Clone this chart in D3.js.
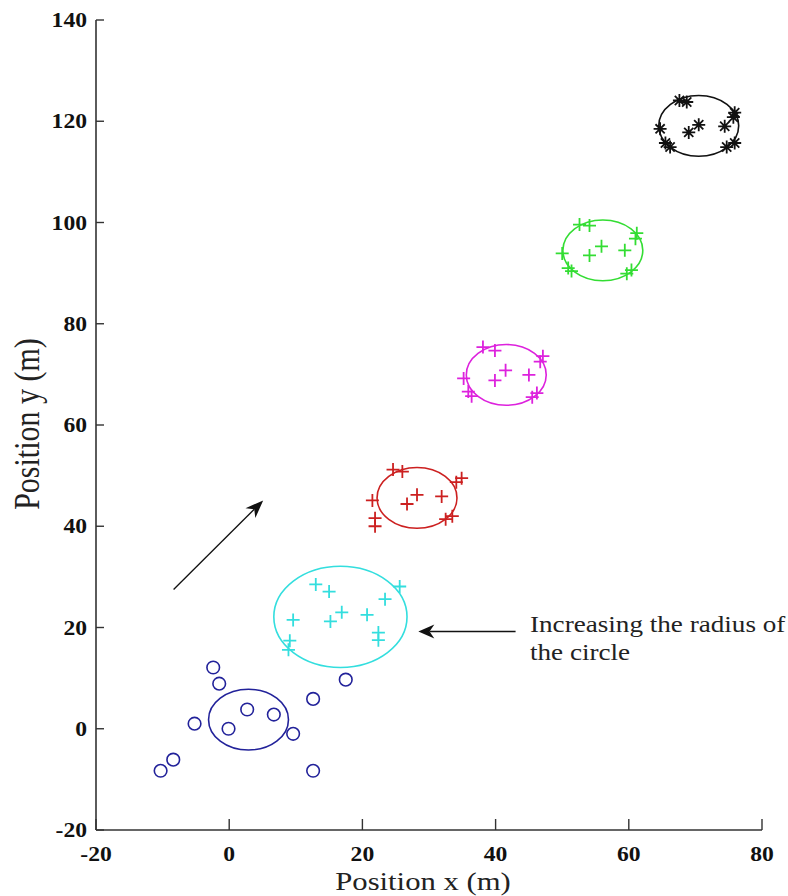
<!DOCTYPE html>
<html>
<head>
<meta charset="utf-8">
<script src="https://cdn.jsdelivr.net/npm/d3@7"></script>
<style>
  body { margin: 0; background: #fff; }
  svg { display: block; }
  text { font-family: "Liberation Serif", "Times New Roman", serif; }
</style>
</head>
<body>
<svg id="chart" width="788" height="896"></svg>
<script>
// cluster points (x, y in metres)
const bluePoints = [[-10.3, -8.3], [-8.4, -6.1], [-5.2, 1.0], [-2.4, 12.1], [-1.5, 8.9], [-0.1, 0.0],
  [2.7, 3.8], [6.7, 2.8], [9.6, -1.0], [12.6, 5.9], [12.6, -8.3], [17.5, 9.7]];
const cyanPoints = [[13.0, 28.5], [15.0, 27.1], [25.6, 28.1], [23.4, 25.6], [9.6, 21.5], [16.9, 23.0],
  [15.2, 21.2], [20.7, 22.5], [22.4, 19.0], [22.4, 17.5], [9.1, 17.4], [8.9, 15.6]];
const redPoints = [[24.6, 51.2], [26.0, 50.8], [34.9, 49.5], [34.1, 48.7], [21.5, 45.1], [28.2, 46.2],
  [26.7, 44.4], [31.9, 45.9], [21.9, 41.6], [21.9, 40.0], [33.5, 42.0], [32.5, 41.4]];
const magentaPoints = [[38.1, 75.4], [39.9, 74.7], [47.1, 73.6], [46.7, 72.5], [35.2, 69.2], [41.5, 70.8],
  [39.9, 68.8], [45.0, 69.9], [35.9, 66.6], [36.4, 65.7], [46.2, 66.3], [45.5, 65.5]];
const greenPoints = [[52.6, 99.6], [54.1, 99.4], [61.2, 97.9], [61.0, 96.8], [50.0, 93.9], [55.9, 95.3],
  [54.1, 93.5], [59.4, 94.5], [50.9, 91.0], [51.4, 90.4], [60.4, 90.6], [59.7, 89.9]];
const blackPoints = [[67.6, 124.1], [68.7, 123.8], [75.9, 121.7], [75.7, 120.8], [64.7, 118.5], [70.5, 119.3],
  [69.0, 117.8], [74.4, 119.0], [65.5, 115.7], [66.2, 114.9], [75.9, 115.7], [74.7, 114.9]];

// circle centres and radii (m)
const circleCenters = [[2.9, 1.8], [16.7, 22.1], [28.2, 45.6], [41.6, 69.9], [56.1, 94.5], [70.5, 119.1]];
const circleRadii = [6, 10, 6, 6, 6, 6];
const clusterColors = ["#22229a", "#33dede", "#cc2020", "#dd22dd", "#33dd33", "#111111"];
const clusterMarkers = ["circle", "plus", "plus", "plus", "plus", "star"];

const xTicks = [-20, 0, 20, 40, 60, 80];
const yTicks = [-20, 0, 20, 40, 60, 80, 100, 120, 140];

// annotations (data coords)
const arrowA = { from: [-8.35, 27.5], to: [5.1, 45.1] };
const arrowB = { from: [43.0, 19.2], to: [28.4, 19.2] };
const noteLines = ["Increasing the radius of", "the circle"];

const svg = d3.select("#chart");
const stretch = 1.18;

const x = d3.scaleLinear().domain([-20, 80]).range([96, 762]);
const y = d3.scaleLinear().domain([-20, 140]).range([830, 20]);

const clusters = [bluePoints, cyanPoints, redPoints, magentaPoints, greenPoints, blackPoints]
  .map((pts, i) => ({ pts, center: circleCenters[i], r: circleRadii[i], color: clusterColors[i], marker: clusterMarkers[i] }));

// axes lines
const axisColor = "#333";
svg.append("line").attr("x1", x(-20)).attr("x2", x(-20)).attr("y1", y(140)).attr("y2", y(-20))
  .attr("stroke", axisColor).attr("stroke-width", 1.6);
svg.append("line").attr("x1", x(-20)).attr("x2", x(80)).attr("y1", y(-20)).attr("y2", y(-20))
  .attr("stroke", axisColor).attr("stroke-width", 1.6);

// ticks, pointing inward
svg.selectAll(".xtick").data(xTicks).enter().append("line")
  .attr("x1", d => x(d)).attr("x2", d => x(d)).attr("y1", y(-20)).attr("y2", y(-20) - 11)
  .attr("stroke", axisColor).attr("stroke-width", 1.4);
svg.selectAll(".ytick").data(yTicks).enter().append("line")
  .attr("x1", x(-20)).attr("x2", x(-20) + 8).attr("y1", d => y(d)).attr("y2", d => y(d))
  .attr("stroke", axisColor).attr("stroke-width", 1.4);

// tick labels
svg.selectAll(".xlab").data(xTicks).enter().append("text")
  .attr("transform", d => `translate(${x(d)},861) scale(${stretch},1)`)
  .attr("text-anchor", "middle").attr("font-weight", "bold").attr("font-size", 20)
  .attr("fill", "#111").text(d => d);
svg.selectAll(".ylab").data(yTicks).enter().append("text")
  .attr("transform", d => `translate(87,${y(d) + 7}) scale(${stretch},1)`)
  .attr("text-anchor", "end").attr("font-weight", "bold").attr("font-size", 20)
  .attr("fill", "#111").text(d => d);

// axis titles
svg.append("text")
  .attr("transform", `translate(423,890) scale(${stretch},1)`)
  .attr("text-anchor", "middle").attr("font-size", 26).attr("fill", "#222")
  .text("Position x (m)");
svg.append("text")
  .attr("transform", `translate(39,424) scale(${stretch},1) rotate(-90)`)
  .attr("text-anchor", "middle").attr("font-size", 30).attr("fill", "#222")
  .text("Position y (m)");

// circles around each cluster (radius in metres, so they look like ellipses)
svg.selectAll(".ring").data(clusters).enter().append("ellipse")
  .attr("cx", d => x(d.center[0])).attr("cy", d => y(d.center[1]))
  .attr("rx", d => x(d.r) - x(0)).attr("ry", d => y(0) - y(d.r))
  .attr("fill", "none").attr("stroke", d => d.color).attr("stroke-width", 1.6);

// markers
const markerPath = {
  plus: "M-6.5,0H6.5M0,-6.5V6.5",
  star: "M-6.5,0H6.5M0,-6.5V6.5M-4.6,-4.6L4.6,4.6M-4.6,4.6L4.6,-4.6"
};
clusters.forEach(c => {
  const g = svg.append("g");
  const marks = g.selectAll("g").data(c.pts).enter().append("g")
    .attr("transform", d => `translate(${x(d[0])},${y(d[1])})`);
  if (c.marker === "circle") {
    marks.append("circle").attr("r", 6.3).attr("fill", "none")
      .attr("stroke", c.color).attr("stroke-width", 1.6);
  } else {
    marks.append("path").attr("d", markerPath[c.marker]).attr("fill", "none")
      .attr("stroke", c.color).attr("stroke-width", 1.8);
  }
});

// arrows with a notched filled head
const drawArrow = (a, len, half, width) => {
  const x0 = x(a.from[0]), y0 = y(a.from[1]);
  const x1 = x(a.to[0]), y1 = y(a.to[1]);
  const ang = Math.atan2(y1 - y0, x1 - x0);
  const cos = Math.cos(ang), sin = Math.sin(ang);
  const pt = (u, v) => [x1 + u * cos - v * sin, y1 + u * sin + v * cos];
  svg.append("line").attr("x1", x0).attr("y1", y0)
    .attr("x2", pt(-len * 0.7, 0)[0]).attr("y2", pt(-len * 0.7, 0)[1])
    .attr("stroke", "#111").attr("stroke-width", width);
  const head = [pt(0, 0), pt(-len, -half), pt(-len * 0.7, 0), pt(-len, half)];
  svg.append("path").attr("d", "M" + head.map(p => p.join(",")).join("L") + "Z")
    .attr("fill", "#111");
};
drawArrow(arrowA, 18, 7, 1.3);
drawArrow(arrowB, 16, 7, 1.5);

// annotation text
svg.selectAll(".note").data(noteLines).enter().append("text")
  .attr("transform", (d, i) => `translate(530,${632 + i * 28}) scale(${stretch},1)`)
  .attr("font-size", 23).attr("fill", "#222").text(d => d);
</script>
</body>
</html>
